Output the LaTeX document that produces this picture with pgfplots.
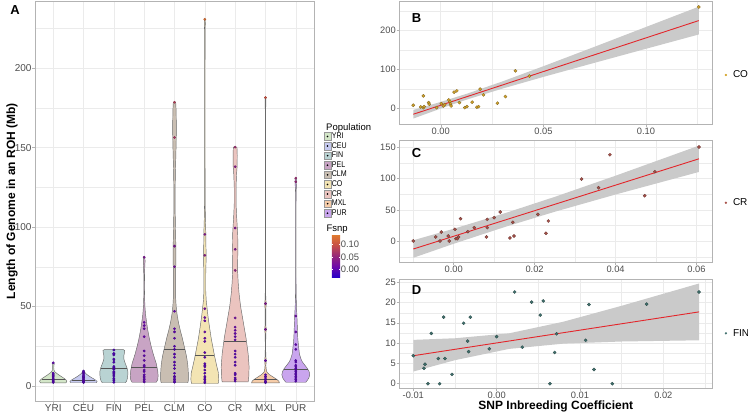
\documentclass[border=0pt]{standalone}
\usepackage{pgfplots}
\pgfplotsset{compat=1.18}
\usetikzlibrary{calc}
\usepackage{fontspec}
\setmainfont{Liberation Sans}
\newfontfamily\legfont[FakeStretch=0.85]{Liberation Sans}

\definecolor{gridc}{HTML}{EBEBEB}
\definecolor{framec}{HTML}{B3B3B3}
\definecolor{tickc}{HTML}{4D4D4D}
\definecolor{vline}{HTML}{6A6A6A}
\definecolor{yriC}{HTML}{D3E6C8}
\definecolor{ceuC}{HTML}{C6CAF0}
\definecolor{finC}{HTML}{B9D3D3}
\definecolor{pelC}{HTML}{C8A4C4}
\definecolor{clmC}{HTML}{C9BEB2}
\definecolor{coC}{HTML}{F3E4B3}
\definecolor{crC}{HTML}{EBC4BF}
\definecolor{mxlC}{HTML}{F6CCA8}
\definecolor{purC}{HTML}{C9A5EE}
\definecolor{coP}{HTML}{D4A42A}
\definecolor{coPd}{HTML}{7F6420}
\definecolor{crP}{HTML}{A8524A}
\definecolor{crPd}{HTML}{6B3530}
\definecolor{finP}{HTML}{40706D}
\definecolor{finPd}{HTML}{2A4A48}
\definecolor{bandc}{HTML}{CACACA}
\definecolor{fitc}{HTML}{E3262B}

\tikzset{plab/.style={font=\bfseries\fontsize{13bp}{14bp}\selectfont}}
\pgfplotsset{
  ggbase/.style={
    scale only axis,
    clip mode=individual,
    scaled ticks=false,
    axis line style={framec, line width=0.6bp},
    tick style={framec, line width=0.5bp},
    tick align=outside,
    major tick length=2.75bp,
    minor tick length=0bp,
    tick pos=left,
    xmajorgrids, ymajorgrids, yminorgrids,
    major grid style={gridc, line width=0.55bp},
    minor grid style={gridc, line width=0.3bp},
    ticklabel style={font=\fontsize{9.3bp}{10bp}\selectfont, text=tickc, inner sep=0.6bp},
    /pgf/number format/assume math mode=true,
  },
  vio/.style={draw=vline, line width=0.45bp, forget plot},
  med/.style={draw=vline!80!black, line width=0.5bp, forget plot},
  rlegend/.style={legend style={at={(1,#1)}, anchor=west, xshift=12.3bp, draw=none, fill=none, inner sep=0pt,
      font=\fontsize{10bp}{11bp}\selectfont, nodes={inner sep=0.5bp},
      /tikz/every odd column/.append style={column sep=5.5bp},
      /tikz/every even column/.append style={column sep=5.5bp}}},
}

\begin{document}
\begin{tikzpicture}
\path[use as bounding box] (0,0) rectangle (748bp,414bp);

% ================= Panel A =================
\begin{axis}[ggbase,
  at={(35bp,412.5bp)}, anchor=north west, width=279bp, height=399.5bp,
  xmin=0.4, xmax=9.6, ymin=-9.5, ymax=242,
  xtick={1,...,9}, xticklabels={YRI,CEU,FIN,PEL,CLM,CO,CR,MXL,PUR},
  ytick={0,50,100,150,200}, minor ytick={25,75,125,175,225},
  ticklabel style={font=\fontsize{10bp}{11bp}\selectfont},
  ylabel={Length of Genome in an ROH (Mb)},
  ylabel style={font=\bfseries\fontsize{12bp}{13bp}\selectfont, at={(axis description cs:-0.0824,0.5)}, anchor=center},
  colormap={fsnp}{rgb255=(40,0,200) rgb255=(110,10,170) rgb255=(150,40,120) rgb255=(200,80,70) rgb255=(225,125,45)},
  point meta min=-0.029, point meta max=0.138,
  colorbar,
  colorbar style={
    at={($(parent axis.north east)+(9.3bp,-232.7bp)$)}, anchor=north west,
    scale only axis, width=8.3bp, height=43bp,
    ytick={0,0.05,0.1}, yticklabels={0.00,0.05,0.10},
    yticklabel style={font=\fontsize{9.4bp}{10bp}\selectfont, text=tickc, inner sep=0.5bp},
    yticklabel pos=right,
    axis line style={draw=none},
    tick align=inside, major tick length=1.6bp,
    ytick style={white, line width=0.5bp},
  },
  legend style={at={(1,1)}, anchor=north west, xshift=9.3bp, yshift=-130.7bp,
    draw=none, fill=none, inner sep=0pt, row sep=1.5bp,
    font=\legfont\fontsize{8.3bp}{8.5bp}\selectfont, nodes={inner sep=0.3bp},
    legend cell align=left, /tikz/every even column/.append style={column sep=0.5bp}},
]
% legend keys
\addlegendimage{legend image code/.code={\draw[fill=yriC,draw=vline!70,line width=0.4bp] (0bp,-3.85bp) rectangle (7.7bp,3.85bp); \fill[black] (3.85bp,0bp) circle (0.6bp);}}
\addlegendentry{YRI}
\addlegendimage{legend image code/.code={\draw[fill=ceuC,draw=vline!70,line width=0.4bp] (0bp,-3.85bp) rectangle (7.7bp,3.85bp); \fill[black] (3.85bp,0bp) circle (0.6bp);}}
\addlegendentry{CEU}
\addlegendimage{legend image code/.code={\draw[fill=finC,draw=vline!70,line width=0.4bp] (0bp,-3.85bp) rectangle (7.7bp,3.85bp); \fill[black] (3.85bp,0bp) circle (0.6bp);}}
\addlegendentry{FIN}
\addlegendimage{legend image code/.code={\draw[fill=pelC,draw=vline!70,line width=0.4bp] (0bp,-3.85bp) rectangle (7.7bp,3.85bp); \fill[black] (3.85bp,0bp) circle (0.6bp);}}
\addlegendentry{PEL}
\addlegendimage{legend image code/.code={\draw[fill=clmC,draw=vline!70,line width=0.4bp] (0bp,-3.85bp) rectangle (7.7bp,3.85bp); \fill[black] (3.85bp,0bp) circle (0.6bp);}}
\addlegendentry{CLM}
\addlegendimage{legend image code/.code={\draw[fill=coC,draw=vline!70,line width=0.4bp] (0bp,-3.85bp) rectangle (7.7bp,3.85bp); \fill[black] (3.85bp,0bp) circle (0.6bp);}}
\addlegendentry{CO}
\addlegendimage{legend image code/.code={\draw[fill=crC,draw=vline!70,line width=0.4bp] (0bp,-3.85bp) rectangle (7.7bp,3.85bp); \fill[black] (3.85bp,0bp) circle (0.6bp);}}
\addlegendentry{CR}
\addlegendimage{legend image code/.code={\draw[fill=mxlC,draw=vline!70,line width=0.4bp] (0bp,-3.85bp) rectangle (7.7bp,3.85bp); \fill[black] (3.85bp,0bp) circle (0.6bp);}}
\addlegendentry{MXL}
\addlegendimage{legend image code/.code={\draw[fill=purC,draw=vline!70,line width=0.4bp] (0bp,-3.85bp) rectangle (7.7bp,3.85bp); \fill[black] (3.85bp,0bp) circle (0.6bp);}}
\addlegendentry{PUR}

% violins: w = half width (signed), y = value
\addplot[vio, fill=yriC] table[x expr=1+\thisrow{w}, y=y] {
w y
.42 1.9
.45 3
.41 4
.34 5
.26 6
.18 7
.11 8
.05 9
.025 10
.018 11.5
.025 13
.035 14
.02 14.6
-.02 14.6
-.035 14
-.025 13
-.018 11.5
-.025 10
-.05 9
-.11 8
-.18 7
-.26 6
-.34 5
-.41 4
-.45 3
-.42 1.9
} -- cycle;
\addplot[vio, fill=ceuC] table[x expr=2+\thisrow{w}, y=y] {
w y
.42 2
.45 2.8
.41 3.5
.33 4.5
.24 5.5
.16 6.5
.09 7.5
.045 8.5
.02 9.3
.01 9.8
-.01 9.8
-.02 9.3
-.045 8.5
-.09 7.5
-.16 6.5
-.24 5.5
-.33 4.5
-.41 3.5
-.45 2.8
-.42 2
} -- cycle;
\addplot[vio, fill=finC] table[x expr=3+\thisrow{w}, y=y] {
w y
.38 2
.42 3
.45 5
.46 7
.46 9
.44 11
.40 13
.36 15
.33 17
.33 19
.35 21
.36 22.2
.32 22.8
-.32 22.8
-.36 22.2
-.35 21
-.33 19
-.33 17
-.36 15
-.40 13
-.44 11
-.46 9
-.46 7
-.45 5
-.42 3
-.38 2
} -- cycle;
\addplot[vio, fill=pelC] table[x expr=4+\thisrow{w}, y=y] {
w y
.40 2.3
.45 4
.46 6.5
.45 9
.43 11
.40 14
.35 17
.30 20
.23 25
.17 30
.12 35
.08 40
.045 45
.025 50
.015 55
.01 62
.013 70
.02 75
.03 78.5
.025 80.3
.012 81
-.012 81
-.025 80.3
-.03 78.5
-.02 75
-.013 70
-.01 62
-.015 55
-.025 50
-.045 45
-.08 40
-.12 35
-.17 30
-.23 25
-.30 20
-.35 17
-.40 14
-.43 11
-.45 9
-.46 6.5
-.45 4
-.40 2.3
} -- cycle;
\addplot[vio, fill=clmC] table[x expr=5+\thisrow{w}, y=y] {
w y
.44 2
.46 4
.46 7
.45 10
.44 13
.41 17
.37 21
.32 25
.26 30
.19 35
.13 40
.085 45
.055 50
.04 55
.035 62
.035 70
.045 78
.045 88
.035 97
.022 110
.02 122
.03 135
.045 145
.058 155
.06 165
.055 173
.04 178.6
-.04 178.6
-.055 173
-.06 165
-.058 155
-.045 145
-.03 135
-.02 122
-.022 110
-.035 97
-.045 88
-.045 78
-.035 70
-.035 62
-.04 55
-.055 50
-.085 45
-.13 40
-.19 35
-.26 30
-.32 25
-.37 21
-.41 17
-.44 13
-.45 10
-.46 7
-.46 4
-.44 2
} -- cycle;
\addplot[vio, fill=coC] table[x expr=6+\thisrow{w}, y=y] {
w y
.44 1.5
.46 4
.45 8
.40 12
.33 18
.27 24
.21 30
.155 37
.11 43
.08 48
.045 54
.03 60
.03 70
.04 78
.042 84
.035 90
.033 96
.02 104
.01 115
.006 140
.006 200
.008 222
.016 228
.012 230.8
-.012 230.8
-.016 228
-.008 222
-.006 200
-.006 140
-.01 115
-.02 104
-.033 96
-.035 90
-.042 84
-.04 78
-.03 70
-.03 60
-.045 54
-.08 48
-.11 43
-.155 37
-.21 30
-.27 24
-.33 18
-.40 12
-.45 8
-.46 4
-.44 1.5
} -- cycle;
\addplot[vio, fill=crC] table[x expr=7+\thisrow{w}, y=y] {
w y
.43 2.5
.45 6
.46 12
.43 20
.36 30
.27 40
.18 50
.13 58
.10 65
.08 73
.085 80
.09 87
.085 95
.07 100
.045 108
.03 115
.03 125
.045 133
.065 138
.07 145
.06 150.3
-.06 150.3
-.07 145
-.065 138
-.045 133
-.03 125
-.03 115
-.045 108
-.07 100
-.085 95
-.09 87
-.085 80
-.08 73
-.10 65
-.13 58
-.18 50
-.27 40
-.36 30
-.43 20
-.46 12
-.45 6
-.43 2.5
} -- cycle;
\addplot[vio, fill=mxlC] table[x expr=8+\thisrow{w}, y=y] {
w y
.46 1.9
.44 3
.38 4
.30 5
.22 6
.14 7
.08 8
.04 9
.02 11
.015 13
.025 15.9
.012 19
.006 25
.012 32
.022 35.6
.012 39
.01 46
.022 51.8
.01 56
.004 65
.004 170
.012 178
.016 181.5
-.016 181.5
-.012 178
-.004 170
-.004 65
-.01 56
-.022 51.8
-.01 46
-.012 39
-.022 35.6
-.012 32
-.006 25
-.012 19
-.025 15.9
-.015 13
-.02 11
-.04 9
-.08 8
-.14 7
-.22 6
-.30 5
-.38 4
-.44 3
-.46 1.9
} -- cycle;
\addplot[vio, fill=purC] table[x expr=9+\thisrow{w}, y=y] {
w y
.33 2.3
.38 3.5
.43 5
.46 7
.44 9
.38 11
.30 13
.22 15
.17 17
.12 20
.09 25
.065 30
.055 35
.045 40
.035 45
.02 50
.008 60
.004 80
.004 110
.01 122
.022 127
.025 130
.02 130.8
-.02 130.8
-.025 130
-.022 127
-.01 122
-.004 110
-.004 80
-.008 60
-.02 50
-.035 45
-.045 40
-.055 35
-.065 30
-.09 25
-.12 20
-.17 17
-.22 15
-.30 13
-.38 11
-.44 9
-.46 7
-.43 5
-.38 3.5
-.33 2.3
} -- cycle;

% medians
\addplot[med] coordinates {(0.625,4.5) (1.375,4.5)};
\addplot[med] coordinates {(1.614,3.8) (2.386,3.8)};
\addplot[med] coordinates {(2.566,11.3) (3.434,11.3)};
\addplot[med] coordinates {(3.58,11.8) (4.42,11.8)};
\addplot[med] coordinates {(4.65,22.8) (5.35,22.8)};
\addplot[med] coordinates {(5.686,19.6) (6.314,19.6)};
\addplot[med] coordinates {(6.626,28) (7.374,28)};
\addplot[med] coordinates {(7.636,4.2) (8.364,4.2)};
\addplot[med] coordinates {(8.6,10.3) (9.4,10.3)};

% individual points coloured by Fsnp
\addplot[scatter, only marks, mark=*, mark size=1.15bp, point meta=explicit, forget plot] table[meta=m] {
x y m
1 2.2 0
1 2.8 0
1 3.3 0
1 3.8 0
1 4.3 0
1 5 0
1 5.8 0
1 6.5 0
1 7.3 0
1 8 0
1 14.5 0.005
2 2.1 0
2 2.6 0
2 3 0
2 3.4 0
2 3.9 0
2 4.5 0
2 5.2 0
2 6 0
2 6.8 0
2 7.6 0
2 8.4 0
2 9.3 0
3 2.3 -0.005
3 3.5 -0.005
3 3.8 -0.005
3 4.8 -0.005
3 6.2 -0.005
3 6.9 -0.005
3 7.7 -0.005
3 8.6 -0.005
3 9 -0.005
3 10.5 -0.005
3 10.7 -0.005
3 11.6 -0.005
3 12.3 -0.005
3 14.9 -0.005
3 16.4 -0.005
3 16.9 -0.005
3 19.5 -0.005
3 20.1 -0.005
3 20.4 -0.005
3 22.6 -0.005
4 2.5 0.005
4 3 0.005
4 4 0.005
4 5 0.005
4 6 0.005
4 7 0.005
4 9 0.005
4 10 0.005
4 12 0.005
4 13 0.005
4 16 0.005
4 19 0.005
4 22 0.005
4 31 0.01
4 36 0.01
4 38 0.01
4 40 0.01
4 81 0.03
5 2.3 0
5 3 0
5 4 0
5 5 0
5 6 0
5 8 0
5 11 0
5 13 0
5 15 0
5 18 0
5 20 0
5 23 0
5 25 0
5 30 0.005
5 34 0.005
5 36 0.005
5 47 0.01
5 75 0.02
5 88 0.03
5 156.4 0.07
5 178.6 0.08
6 2 0
6 3 0
6 4 0
6 5 0
6 6 0
6 8 0
6 10 0
6 12 0
6 13 0
6 14 0
6 18 0
6 21 0.005
6 28 0.005
6 30 0.01
6 34 0.01
6 41 0.01
6 43 0.015
6 48.6 0.02
6 82.2 0.043
6 95.4 0.036
6 230.8 0.125
7 3 0
7 4 0
7 5 0
7 7 0
7 8 0
7 13 0
7 15 0
7 18 0
7 20 0
7 22 0.005
7 29 0.005
7 31 0.005
7 33 0.01
7 35 0.01
7 37 0.01
7 42.8 0.02
7 72.7 0.047
7 86 0.036
7 99.4 0.032
7 138 0.039
7 150.3 0.06
8 2 0
8 2.5 0
8 3 0
8 4 0
8 5 0
8 6 0
8 7 0
8 15.9 0.01
8 35.6 0.03
8 51.8 0.035
8 181.5 0.10
9 3 0
9 4 0
9 5 0
9 6 0
9 7 0
9 8 0
9 9 0
9 10 0
9 11 0
9 12 0
9 13 0
9 15 0
9 16 0
9 23 0.005
9 26 0.005
9 34 0.01
9 44 0.015
9 128.5 0.055
9 130.8 0.06
};

\node[plab] at (axis description cs:-0.0717,0.979) {A};
\node[anchor=west, font=\fontsize{9.5bp}{10bp}\selectfont] at (axis description cs:1.0312,0.6826) {Population};
\node[anchor=west, font=\fontsize{9.5bp}{10bp}\selectfont] at (axis description cs:1.0323,0.4305) {Fsnp};
\end{axis}

% ================= Panel B =================
\begin{axis}[ggbase, xminorgrids,
  at={(399.3bp,412.5bp)}, anchor=north west, width=313bp, height=122.5bp,
  xmin=-0.0202, xmax=0.1323, ymin=-40.5, ymax=274,
  xtick={0,0.05,0.1}, xticklabels={0.00,0.05,0.10}, minor xtick={-0.025,0.025,0.075,0.125},
  ytick={0,100,200}, minor ytick={50,150,250},
  rlegend=0.4,
]
\addplot[fill=bandc, draw=none, forget plot] coordinates {
(-0.0134,-4.4) (0,16.2) (0.013,37.7) (0.03,68.7) (0.05,107.8) (0.075,157.9) (0.1,208.6) (0.1257,260.7)
(0.1257,189.3) (0.1,152.6) (0.075,116.7) (0.05,80.4) (0.03,50.3) (0.013,22.7) (0,-0.8) (-0.0134,-26.6)} -- cycle;
\addplot[fitc, line width=0.9bp, forget plot] coordinates {(-0.0134,-15.5) (0.1257,225)};
\addplot[only marks, mark=*, mark size=1.6bp, mark options={fill=coP, draw=coPd, line width=0.3bp},
  legend image code/.code={\fill[coP] (0bp,0bp) circle (0.9bp);}] table {
x y
-0.0134 7.7
-0.0098 3.3
-0.0085 31.7
-0.0085 1.5
-0.0081 4
-0.0059 14.4
-0.0056 10.3
-0.002 1.5
0.0003 11.9
0.0013 5.9
0.0019 9.3
0.0039 21.4
0.0045 17
0.0048 11
0.005 5.9
0.0065 41.2
0.0078 44.6
0.0091 14.4
0.0117 1.5
0.0127 4.1
0.0153 15.5
0.0176 2.6
0.0184 4.1
0.0192 49
0.0208 34.3
0.0276 12.9
0.0315 30
0.0364 96
0.0432 82.5
0.1257 260
};
\addlegendentry{CO}
\node[plab] at (axis description cs:0.055,0.869) {B};
\end{axis}

% ================= Panel C =================
\begin{axis}[ggbase, xminorgrids,
  at={(399.3bp,274bp)}, anchor=north west, width=313bp, height=122.3bp,
  xmin=-0.01343, xmax=0.0639, ymin=-33.5, ymax=161.7,
  xtick={0,0.02,0.04,0.06}, xticklabels={0.00,0.02,0.04,0.06}, minor xtick={-0.01,0.01,0.03,0.05},
  ytick={0,50,100,150}, minor ytick={-25,25,75,125},
  rlegend=0.487,
]
\addplot[fill=bandc, draw=none, forget plot] coordinates {
(-0.00997,1.7) (0,20.05) (0.013,45.6) (0.025,71) (0.04,104.7) (0.0606,152.7)
(0.0606,110.7) (0.04,74.7) (0.025,47.2) (0.013,23.6) (0,-3.95) (-0.00997,-26.3)} -- cycle;
\addplot[fitc, line width=0.9bp, forget plot] coordinates {(-0.00997,-12.3) (0.0606,131.7)};
\addplot[only marks, mark=*, mark size=1.6bp, mark options={fill=crP, draw=crPd, line width=0.3bp},
  legend image code/.code={\fill[crP] (0bp,0bp) circle (0.9bp);}] table {
x y
-0.00997 0.5
-0.00444 6.9
-0.00338 0.5
-0.00306 14.8
-0.00133 8.5
-0.00109 0.5
0.00032 19.1
0.00057 4.2
0.0009 4.2
0.0012 6.9
0.0017 36.1
0.0035 15.4
0.0051 21.8
0.0083 35
0.0083 21.8
0.0081 6.9
0.01 37.7
0.0115 46.8
0.0139 5.3
0.0146 30.3
0.0149 8.5
0.0208 43
0.0228 12.8
0.0234 32.4
0.0316 99.4
0.0358 85.5
0.0386 138.2
0.0472 72.8
0.0497 111
0.0606 150.5
};
\addlegendentry{CR}
\node[plab] at (axis description cs:0.055,0.894) {C};
\end{axis}

% ================= Panel D =================
\begin{axis}[ggbase, xminorgrids,
  at={(399.3bp,135bp)}, anchor=north west, width=313bp, height=109.3bp,
  xmin=-0.01168, xmax=0.02588, ymin=-1.13, ymax=25.8,
  xtick={-0.01,0,0.01,0.02}, xticklabels={-0.01,0.00,0.01,0.02}, minor xtick={-0.005,0.005,0.015,0.025},
  ytick={0,5,10,15,20,25}, minor ytick={2.5,7.5,12.5,17.5,22.5},
  xlabel={SNP Inbreeding Coefficient},
  xlabel style={font=\bfseries\fontsize{12bp}{13bp}\selectfont, at={(axis description cs:0.5,-0.162)}, anchor=center},
  rlegend=0.503,
]
\addplot[fill=bandc, draw=none, forget plot] coordinates {
(-0.01,10.8) (-0.005,11.2) (0.0015,12.42) (0.008,15.27) (0.015,19.2) (0.0243,24.7)
(0.0243,10.7) (0.015,10.4) (0.008,9.87) (0.0015,8.58) (-0.005,5.8) (-0.01,3.0)} -- cycle;
\addplot[fitc, line width=0.9bp, forget plot] coordinates {(-0.01,6.9) (0.0243,17.7)};
\addplot[only marks, mark=*, mark size=1.6bp, mark options={fill=finP, draw=finPd, line width=0.3bp},
  legend image code/.code={\fill[finP] (0bp,0bp) circle (0.9bp);}] table {
x y
-0.01 6.9
-0.00872 3.8
-0.0086 4.8
-0.00824 0
-0.00784 12.4
-0.007 6.2
-0.00684 0
-0.00636 16.4
-0.0062 6.2
-0.00536 2.3
-0.00396 14.9
-0.00348 10.5
-0.00336 7.9
-0.00316 16.4
-0.00088 8.6
0.0 11.6
0.00216 22.6
0.00308 9.0
0.0042 20.1
0.00524 16.9
0.0056 20.4
0.0064 0
0.00696 7.7
0.0072 12.3
0.01068 10.7
0.01108 19.5
0.01168 3.5
0.01388 0
0.018 19.6
0.02428 22.6
};
\addlegendentry{FIN}
\node[plab] at (axis description cs:0.055,0.899) {D};
\end{axis}
\end{tikzpicture}
\end{document}
